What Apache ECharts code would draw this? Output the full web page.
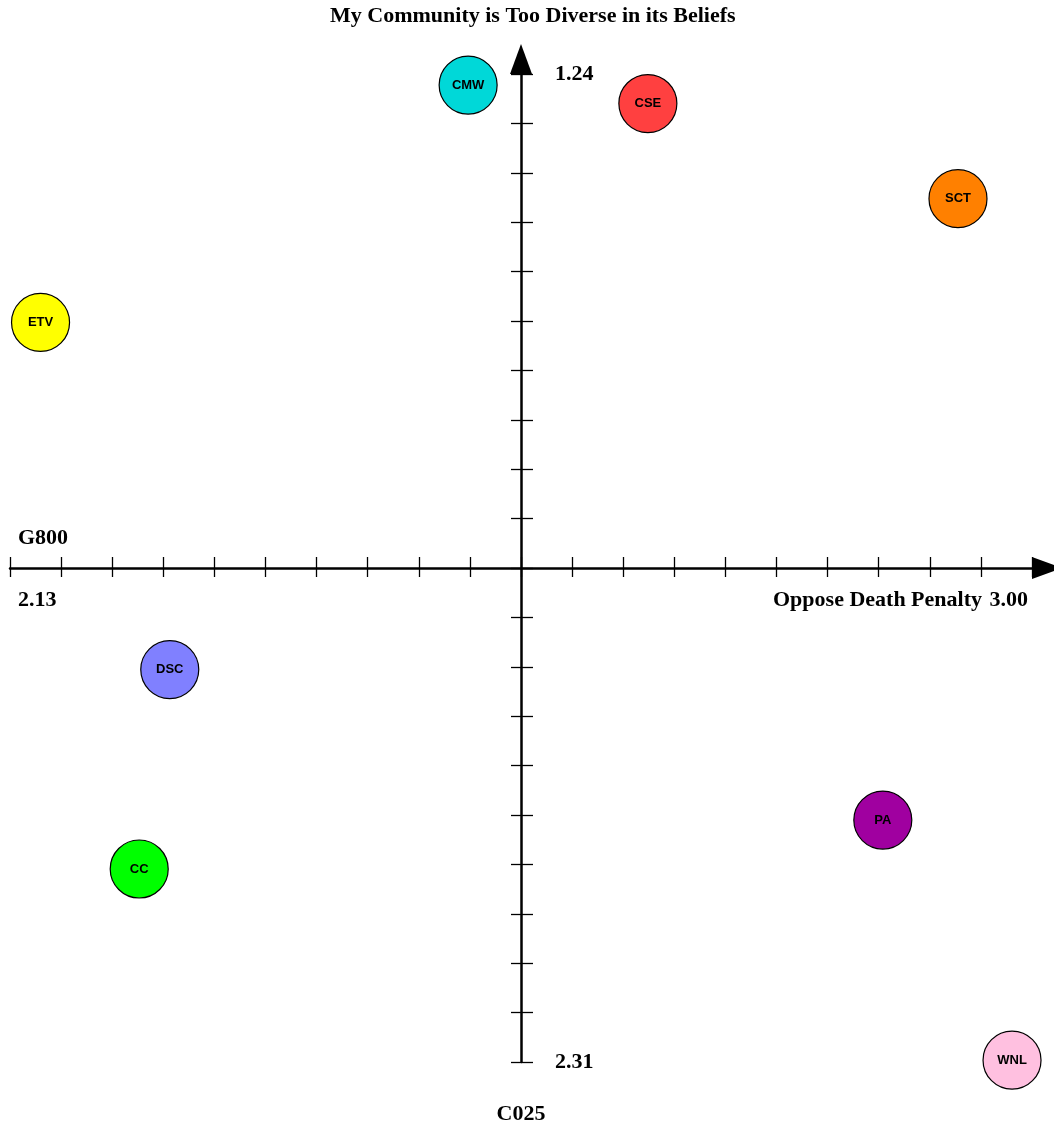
<!DOCTYPE html>
<html><head><meta charset="utf-8">
<script src="https://cdn.jsdelivr.net/npm/echarts@6/dist/echarts.min.js"></script>
<style>html,body{margin:0;padding:0;background:#fff}#c{width:1054px;height:1125px}</style>
</head><body><div id="c"></div>
<script>
// ---- data ----
const groupNames = ['CMW', 'CSE', 'SCT', 'ETV', 'DSC', 'CC', 'PA', 'WNL'];
const opposeDeathPenalty = [2.520, 2.673, 2.937, 2.156, 2.266, 2.240, 2.873, 2.983];   // x
const tooDiverse = [1.252, 1.272, 1.375, 1.509, 1.885, 2.101, 2.048, 2.308];           // y
const groupColors = ['#00D8D8', '#FF4040', '#FF8000', '#FFFF00', '#8080FF', '#00FF00', '#A000A0', '#FFC0E0'];
const xRange = [2.13, 3.00];
const yRange = [1.24, 2.31];
const xTickLabels = ['2.13', '', '', '', '', '', '', '', '', '', '', '', '', '', '', '', '', '', '', '', '3.00'];
const yTickLabels = ['2.31', '', '', '', '', '', '', '', '', '', '', '', '', '', '', '', '', '', '', '', '1.24']; // bottom -> top
const titleText = 'My Community is Too Diverse in its Beliefs';
const xNameHigh = 'Oppose Death Penalty';
const xNameLow = 'G800';
const yNameLow = 'C025';

// ---- chart ----
const serif = '"Liberation Serif", "Times New Roman", serif';
const sans = '"Liberation Sans", Arial, sans-serif';
const chart = echarts.init(document.getElementById('c'), null, { renderer: 'canvas' });

const gridLeft = 10, gridRight = 22, gridTop = 74, gridBottom = 63;
const W = 1054, H = 1125;
const gridW = W - gridLeft - gridRight, gridH = H - gridTop - gridBottom;
const xOff = -(gridH / 2);   // x axis crosses the middle of the plot
const yOff = -(gridW / 2);   // y axis crosses the middle of the plot

const fs = 22;
const labelFont = { fontFamily: serif, fontWeight: 'bold', fontSize: fs, color: '#000' };

const arrowLine = {
  show: true, onZero: false, symbol: ['none', 'triangle'], symbolSize: [22, 30], symbolOffset: 15,
  lineStyle: { color: '#000', width: 2.5 }
};

const option = {
  backgroundColor: '#fff',
  animation: false,
  title: {
    text: titleText,
    left: 330,
    top: 3,
    padding: [2, 0, 2, 0],
    textStyle: { fontFamily: serif, fontWeight: 'bold', fontSize: fs, color: '#000' }
  },
  grid: { left: gridLeft, right: gridRight, top: gridTop, bottom: gridBottom },
  xAxis: [
    { type: 'value', min: xRange[0], max: xRange[1], show: false },
    {
      type: 'category', data: xTickLabels, boundaryGap: false, position: 'bottom', offset: xOff,
      axisLine: arrowLine,
      axisTick: { show: true, interval: 0, length: 9, lineStyle: { color: '#000', width: 1.3 } },
      axisLabel: { show: true, interval: 0, margin: 21, alignMinLabel: 'left', alignMaxLabel: 'right',
        padding: [0, 4, 0, 8], ...labelFont },
      splitLine: { show: false }
    },
    {
      type: 'category', data: xTickLabels, boundaryGap: false, position: 'bottom', offset: xOff,
      axisLine: { show: false, onZero: false },
      axisTick: { show: true, inside: true, interval: 0, length: 11, lineStyle: { color: '#000', width: 1.3 } },
      axisLabel: { show: false },
      splitLine: { show: false }
    }
  ],
  yAxis: [
    { type: 'value', min: yRange[0], max: yRange[1], inverse: true, show: false },
    {
      type: 'category', data: yTickLabels, boundaryGap: false, position: 'left', offset: yOff,
      axisLine: arrowLine,
      axisTick: { show: true, interval: 0, length: 10, lineStyle: { color: '#000', width: 1.3 } },
      axisLabel: { show: true, inside: true, interval: 0, margin: 34, ...labelFont },
      splitLine: { show: false }
    },
    {
      type: 'category', data: yTickLabels, boundaryGap: false, position: 'left', offset: yOff,
      axisLine: { show: false, onZero: false },
      axisTick: { show: true, inside: true, interval: 0, length: 12, lineStyle: { color: '#000', width: 1.3 } },
      axisLabel: { show: false },
      splitLine: { show: false }
    }
  ],
  graphic: [
    { type: 'text', x: 18, y: 538, z: 100,
      style: { text: xNameLow, font: 'bold ' + fs + 'px ' + serif, fill: '#000', align: 'left', verticalAlign: 'middle', textAlign: 'left', textVerticalAlign: 'middle' } },
    { type: 'text', x: 982, y: 600, z: 100,
      style: { text: xNameHigh, font: 'bold ' + fs + 'px ' + serif, fill: '#000', align: 'right', verticalAlign: 'middle', textAlign: 'right', textVerticalAlign: 'middle' } },
    { type: 'text', x: 521, y: 1114, z: 100,
      style: { text: yNameLow, font: 'bold ' + fs + 'px ' + serif, fill: '#000', align: 'center', verticalAlign: 'middle', textAlign: 'center', textVerticalAlign: 'middle' } }
  ],
  series: [{
    type: 'scatter',
    xAxisIndex: 0, yAxisIndex: 0,
    clip: false,
    symbol: 'circle',
    symbolSize: 58,
    z: 10,
    itemStyle: { borderColor: '#000', borderWidth: 1.2, opacity: 1 },
    label: { show: true, position: 'inside', formatter: '{b}', fontFamily: sans, fontWeight: 'bold', fontSize: 13, color: '#000' },
    emphasis: { disabled: true },
    data: groupNames.map((n, i) => ({
      name: n,
      value: [opposeDeathPenalty[i], tooDiverse[i]],
      itemStyle: { color: groupColors[i] }
    }))
  }]
};
chart.setOption(option);
</script>
</body></html>
